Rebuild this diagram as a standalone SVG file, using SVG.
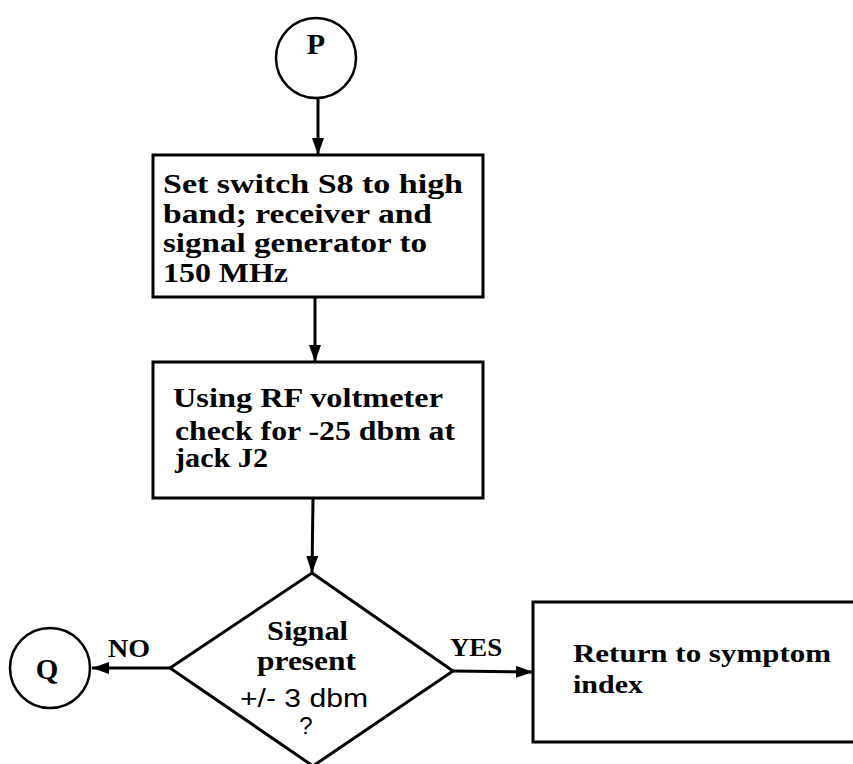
<svg xmlns="http://www.w3.org/2000/svg" width="853" height="764" viewBox="0 0 853 764">
<style>
.shape{fill:#fff;stroke:#000;stroke-width:3}
.circ{fill:#fff;stroke:#000;stroke-width:2.5}
.conn{stroke:#000;stroke-width:3;fill:none}
.t{font-family:"Liberation Serif","Times New Roman",serif;font-weight:bold;font-size:27px;fill:#000}
</style>
<defs>
<marker id="arrow" markerUnits="userSpaceOnUse" markerWidth="18" markerHeight="12" refX="17" refY="6" orient="auto">
<path d="M0,0 L17,6 L0,12 z" fill="#000"/>
</marker>
</defs>
<rect width="853" height="764" fill="#fff"/>
<g id="connectors">
<line class="conn" x1="318" y1="98" x2="318" y2="155" marker-end="url(#arrow)"/>
<line class="conn" x1="315" y1="297" x2="315" y2="362" marker-end="url(#arrow)"/>
<line class="conn" x1="313" y1="498" x2="312" y2="573" marker-end="url(#arrow)"/>
<line class="conn" x1="170" y1="668" x2="92" y2="668" marker-end="url(#arrow)"/>
<line class="conn" x1="453" y1="671" x2="533" y2="672" marker-end="url(#arrow)"/>
<text class="t" x="108" y="657" textLength="42" lengthAdjust="spacingAndGlyphs" style="font-size:25px">NO</text>
<text class="t" x="450" y="656" textLength="52" lengthAdjust="spacingAndGlyphs" style="font-size:25px">YES</text>
</g>
<g id="nodeP">
<circle class="circ" cx="316" cy="58" r="40"/>
<text class="t" x="316" y="54" text-anchor="middle" style="font-size:30px">P</text>
</g>
<g id="box1">
<rect class="shape" x="153" y="155" width="330" height="142"/>
<text class="t" x="163" y="193" textLength="300" lengthAdjust="spacingAndGlyphs">Set switch S8 to high</text>
<text class="t" x="163" y="223" textLength="269" lengthAdjust="spacingAndGlyphs">band; receiver and</text>
<text class="t" x="163" y="252" textLength="264" lengthAdjust="spacingAndGlyphs">signal generator to</text>
<text class="t" x="163" y="282" textLength="125" lengthAdjust="spacingAndGlyphs">150 MHz</text>
</g>
<g id="box2">
<rect class="shape" x="153" y="362" width="330" height="136"/>
<text class="t" x="173" y="407" textLength="270" lengthAdjust="spacingAndGlyphs">Using RF voltmeter</text>
<text class="t" x="175" y="440" textLength="280" lengthAdjust="spacingAndGlyphs">check for -25 dbm at</text>
<text class="t" x="175" y="467" textLength="93" lengthAdjust="spacingAndGlyphs">jack J2</text>
</g>
<g id="decision">
<polygon class="shape" points="312,573 453,671 313,766 170,668"/>
<text class="t" x="267" y="640" textLength="81" lengthAdjust="spacingAndGlyphs">Signal</text>
<text class="t" x="257" y="670" textLength="99" lengthAdjust="spacingAndGlyphs">present</text>
<text class="t" x="240" y="707" textLength="128" lengthAdjust="spacingAndGlyphs" style="font-family:'Liberation Sans',Arial,sans-serif;font-weight:normal;font-size:26px">+/- 3 dbm</text>
<text class="t" x="306" y="734" text-anchor="middle" style="font-family:'Liberation Sans',Arial,sans-serif;font-weight:normal;font-size:24px">?</text>
</g>
<g id="nodeQ">
<circle class="circ" cx="50" cy="668" r="40"/>
<text class="t" x="47" y="679" text-anchor="middle" style="font-size:29px">Q</text>
</g>
<g id="box3">
<rect class="shape" x="533" y="602" width="330" height="140"/>
<text class="t" x="573" y="662" textLength="258" lengthAdjust="spacingAndGlyphs" style="font-size:25px">Return to symptom</text>
<text class="t" x="573" y="693" textLength="70" lengthAdjust="spacingAndGlyphs" style="font-size:25px">index</text>
</g>
</svg>
